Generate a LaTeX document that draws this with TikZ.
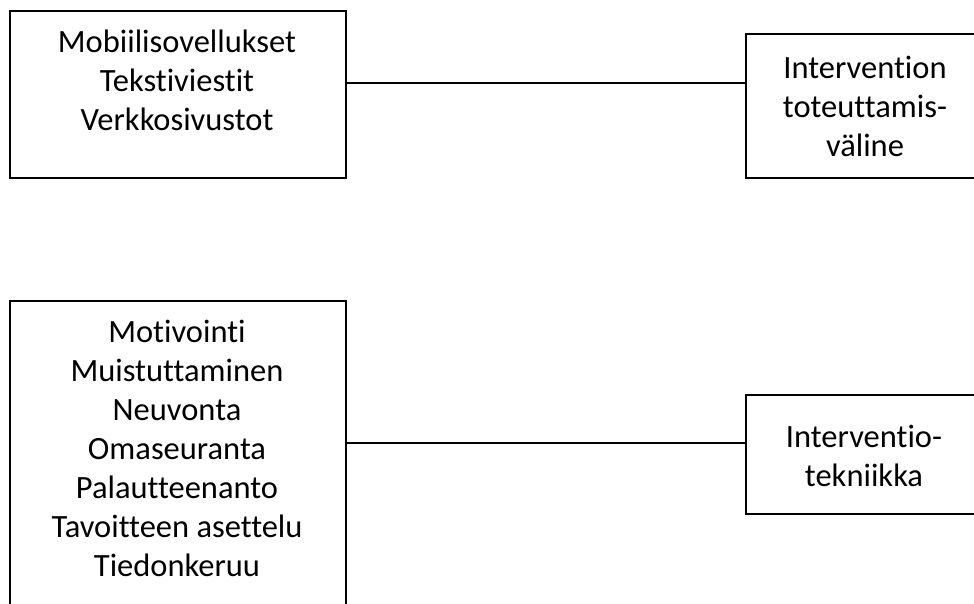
\documentclass[tikz,border=0pt]{standalone}
\usepackage{fontspec}
\setmainfont[RawFeature={-liga;-clig;-dlig}]{Carlito}
\begin{document}
\begin{tikzpicture}[x=1pt,y=-1pt,
  box/.style={draw=black,line width=2pt,anchor=north west,inner sep=0pt},
  txt/.style={anchor=north,inner sep=0pt,align=center,font=\fontsize{32.5}{39}\selectfont},
  conn/.style={draw=black,line width=1.2pt}]
\clip (0,0) rectangle (974,604);
\fill[white] (0,0) rectangle (974,604);
% boxes
\node[box,minimum width=336pt,minimum height=167pt] (tl) at (9,10) {};
\node[box,minimum width=240pt,minimum height=144pt] (tr) at (745,33) {};
\node[box,minimum width=336pt,minimum height=330pt] (bl) at (9,300) {};
\node[box,minimum width=240pt,minimum height=119pt] (br) at (745,394) {};
% texts
\node[txt] (tltext) at (177,25) {\strut Mobiilisovellukset\\Tekstiviestit\\Verkkosivustot};
\node[txt] (trtext) at (865,51) {\strut Intervention\\toteuttamis-\\väline};
\node[txt] (bltext) at (177,314.5) {\strut Motivointi\\Muistuttaminen\\Neuvonta\\Omaseuranta\\Palautteenanto\\Tavoitteen asettelu\\Tiedonkeruu};
\node[txt] (brtext) at (864,420) {\strut Interventio-\\tekniikka};
% connectors
\draw[conn] (tl.east |- 0,83) -- (tr.west |- 0,83);
\draw[conn] (bl.east |- 0,443) -- (br.west |- 0,443);
\end{tikzpicture}
\end{document}
